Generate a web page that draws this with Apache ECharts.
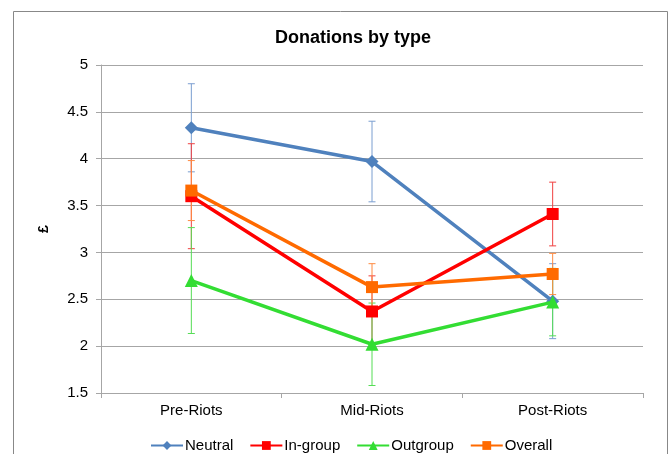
<!DOCTYPE html>
<html><head><meta charset="utf-8">
<script src="https://cdn.jsdelivr.net/npm/echarts@6/dist/echarts.min.js"></script>
<style>html,body{margin:0;padding:0;background:#fff}#c{width:670px;height:454px}</style>
</head><body><div id="c"></div>
<script>
const categories = ['Pre-Riots', 'Mid-Riots', 'Post-Riots'];
const neutral = [4.33, 3.97, 2.48];
const neutralErr = [0.47, 0.43, 0.40];
const ingroup = [3.60, 2.37, 3.41];
const ingroupErr = [0.56, 0.38, 0.34];
const outgroup = [2.70, 2.02, 2.47];
const outgroupErr = [0.565, 0.44, 0.36];
const overall = [3.66, 2.63, 2.77];
const overallErr = [0.32, 0.25, 0.22];
const yTicks = [1.5, 2, 2.5, 3, 3.5, 4, 4.5, 5];

const font = '"Liberation Sans", Arial, sans-serif';
const defs = [
  {name: 'Neutral', data: neutral, err: neutralErr, color: '#4F81BD', errColor: '#7A9ED0', symbol: 'diamond', size: 13},
  {name: 'In-group', data: ingroup, err: ingroupErr, color: '#FF0000', errColor: '#F04040', symbol: 'rect', size: 12},
  {name: 'Outgroup', data: outgroup, err: outgroupErr, color: '#33DD33', errColor: '#55DD55', symbol: 'triangle', size: 13},
  {name: 'Overall', data: overall, err: overallErr, color: '#FF6A00', errColor: '#FF8A40', symbol: 'rect', size: 12}
];

const series = [];
defs.forEach(d => {
  series.push({
    type: 'custom', name: d.name + ' err', z: 1, silent: true,
    data: d.data.map((v, i) => [i, v - d.err[i], v + d.err[i]]),
    renderItem: (params, api) => {
      const lo = api.coord([api.value(0), api.value(1)]);
      const hi = api.coord([api.value(0), api.value(2)]);
      const w = 3.5;
      const st = {stroke: d.errColor, lineWidth: 1};
      return {type: 'group', children: [
        {type: 'line', shape: {x1: lo[0], y1: lo[1], x2: hi[0], y2: hi[1]}, style: st},
        {type: 'line', shape: {x1: lo[0]-w, y1: lo[1], x2: lo[0]+w, y2: lo[1]}, style: st},
        {type: 'line', shape: {x1: hi[0]-w, y1: hi[1], x2: hi[0]+w, y2: hi[1]}, style: st}
      ]};
    }
  });
});
defs.forEach((d, k) => {
  series.push({
    type: 'line', name: d.name, data: d.data, z: 3 + k,
    symbol: d.symbol, symbolSize: d.size, showSymbol: true,
    lineStyle: {color: d.color, width: 3.5},
    itemStyle: {color: d.color},
    emphasis: {disabled: true}, animation: false
  });
});

const chart = echarts.init(document.getElementById('c'));
chart.setOption({
  animation: false,
  backgroundColor: '#fff',
  graphic: [{type: 'rect', shape: {x: 13.5, y: 11.5, width: 654, height: 470}, style: {fill: 'none', stroke: '#888', lineWidth: 1}, silent: true}],
  title: {text: 'Donations by type', left: 348, textAlign: 'center', top: 24,
    textStyle: {fontFamily: font, fontSize: 18, fontWeight: 'bold', color: '#000'}},
  grid: {left: 101, right: 27, top: 65, bottom: 61},
  legend: {
    bottom: -4, left: 145, itemGap: 16, itemWidth: 32, itemHeight: 11,
    data: defs.map(d => d.name),
    textStyle: {fontFamily: font, fontSize: 15, color: '#000', padding: [0, 0, 0, -3]}
  },
  xAxis: {
    type: 'category', data: categories, boundaryGap: true,
    axisLine: {lineStyle: {color: '#A6A6A6', width: 1}},
    axisTick: {show: true, length: 5, lineStyle: {color: '#A6A6A6'}},
    axisLabel: {fontFamily: font, fontSize: 15, color: '#000', margin: 10}
  },
  yAxis: {
    type: 'value', min: yTicks[0], max: yTicks[yTicks.length - 1], interval: 0.5,
    name: '£', nameLocation: 'middle', nameRotate: 90, nameGap: 50,
    nameTextStyle: {fontFamily: font, fontSize: 14, fontWeight: 'bold', color: '#000'},
    axisLine: {show: true, lineStyle: {color: '#A6A6A6'}},
    axisTick: {show: true, length: 5, lineStyle: {color: '#A6A6A6'}},
    splitLine: {lineStyle: {color: '#A6A6A6', width: 1}},
    axisLabel: {fontFamily: font, fontSize: 15, color: '#000', margin: 13}
  },
  series: series
});
</script></body></html>
